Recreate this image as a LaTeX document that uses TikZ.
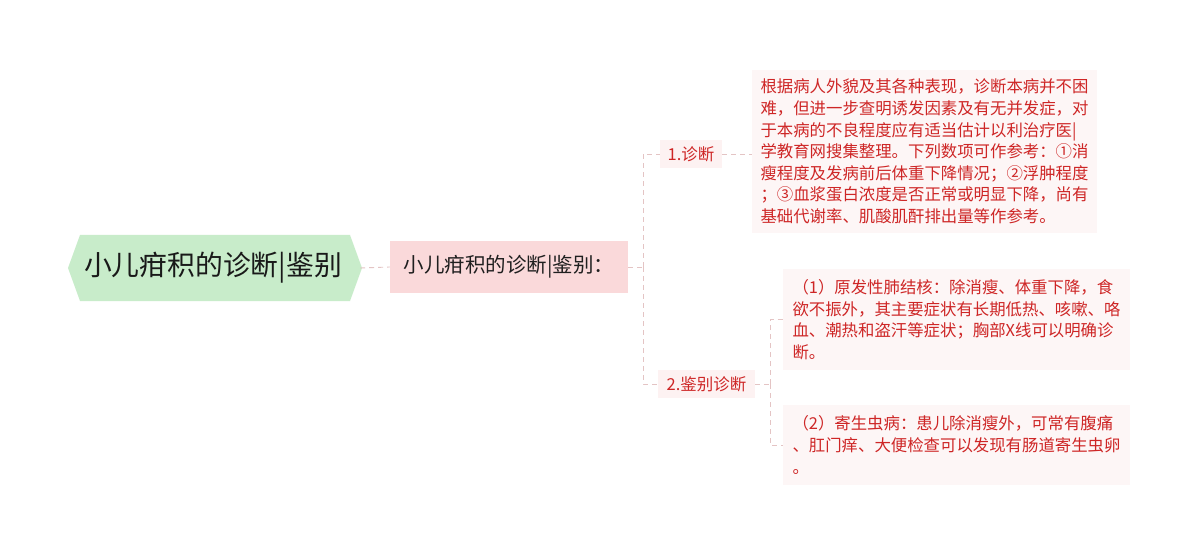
\documentclass[tikz,border=0pt]{standalone}
\usepackage{fontspec}
\setmainfont{Noto Sans CJK SC}
\definecolor{rootfill}{RGB}{200,236,202}
\definecolor{mainfill}{RGB}{250,217,218}
\definecolor{leaffill}{RGB}{253,242,242}
\definecolor{boxfill}{RGB}{253,246,246}
\definecolor{redtext}{RGB}{206,38,38}
\definecolor{linkcol}{RGB}{228,196,196}
\begin{document}
\begin{tikzpicture}[x=1pt,y=-1pt,
  link/.style={draw=linkcol,line width=0.9pt,dash pattern=on 5pt off 4pt},
  mainbox/.style={fill=mainfill,minimum width=238pt,minimum height=52pt,inner sep=0pt,
    font=\fontsize{20.5}{24}\selectfont,text=black!88},
  leafbox/.style={fill=leaffill,minimum height=28pt,inner sep=0pt,
    font=\fontsize{16.5}{19}\selectfont,text=redtext},
  textbox/.style={fill=boxfill,inner sep=0pt,align=left,
    font=\fontsize{16.4}{21.6}\selectfont,text=redtext}]
\useasboundingbox (0,0) rectangle (1200,556);
\fill[white] (0,0) rectangle (1200,556);
% root hexagon
\fill[rootfill] (68,268) -- (80,235) -- (350,235) -- (362,268) -- (350,301) -- (80,301) -- cycle;
\node[inner sep=0pt,minimum width=294pt,minimum height=66pt,font=\fontsize{27.8}{32}\selectfont,text=black!90] (root) at (213,268) {小儿疳积的诊断|鉴别};
\node[mainbox] (main) at (509,267) {小儿疳积的诊断|鉴别：};
\node[leafbox,minimum width=62pt] (d1) at (691,154) {1.诊断};
\node[leafbox,minimum width=97pt] (d2) at (706.5,384) {2.鉴别诊断};
\node[textbox,minimum width=345pt,minimum height=163pt] (t1) at (924.5,151.5) {根据病人外貌及其各种表现，诊断本病并不困\\难，但进一步查明诱发因素及有无并发症，对\\于本病的不良程度应有适当估计以利治疗医|\\学教育网搜集整理。下列数项可作参考：①消\\瘦程度及发病前后体重下降情况；②浮肿程度\\；③血浆蛋白浓度是否正常或明显下降，尚有\\基础代谢率、肌酸肌酐排出量等作参考。};
\node[textbox,minimum width=347pt,minimum height=101pt] (ta) at (956.5,319.5) {（1）原发性肺结核：除消瘦、体重下降，食\\欲不振外，其主要症状有长期低热、咳嗽、咯\\血、潮热和盗汗等症状；胸部X线可以明确诊\\断。};
\node[textbox,minimum width=347pt,minimum height=80pt] (tb) at (956.5,445) {（2）寄生虫病：患儿除消瘦外，可常有腹痛\\、肛门痒、大便检查可以发现有肠道寄生虫卵\\。};
% connectors
\coordinate (hub) at (643,267);
\coordinate (hub2) at (770,384);
\draw[link] (root.east) -- (main.west);
\draw[link] (main.east) -- (hub);
\draw[link] (hub) |- (d1.west);
\draw[link] (hub) |- (d2.west);
\draw[link] (d1.east) -- (d1.east -| t1.west);
\draw[link] (d2.east) -- (hub2);
\draw[link] (hub2) |- (ta.west);
\draw[link] (hub2) |- (tb.west);
\end{tikzpicture}
\end{document}
